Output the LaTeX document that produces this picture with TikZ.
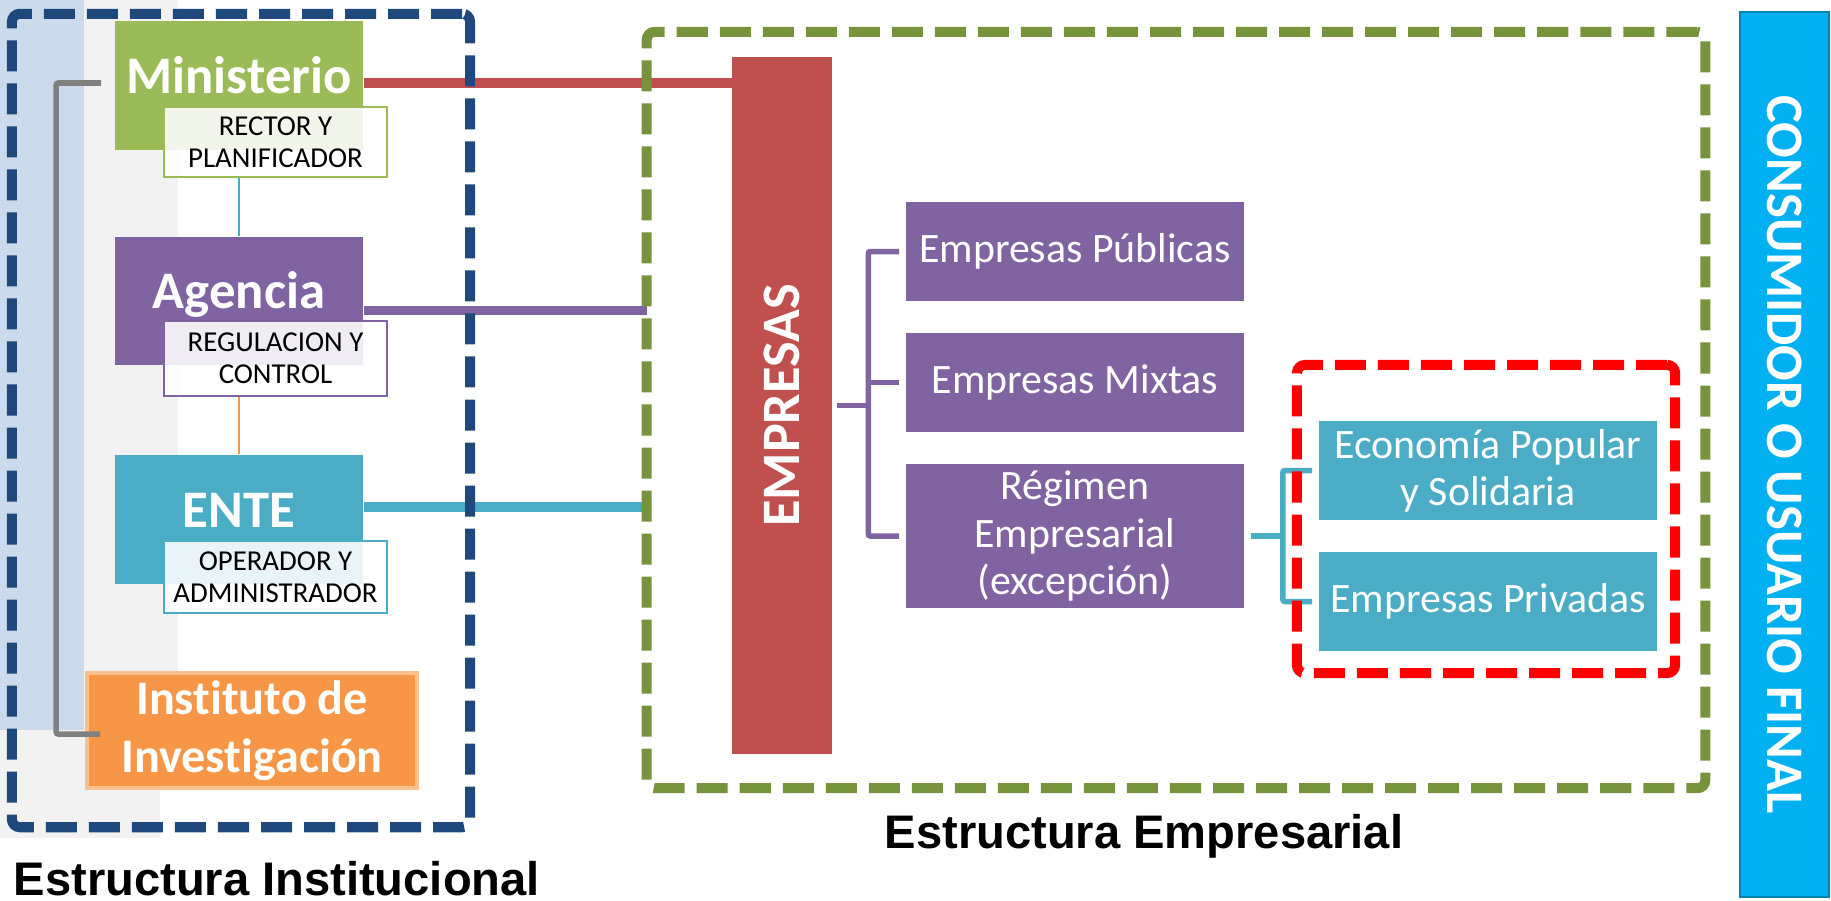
\documentclass[tikz,border=0pt]{standalone}
\usepackage{fontspec}
\setmainfont{Carlito}[Ligatures={NoCommon}]
\newfontfamily\arialfont{Liberation Sans}

\definecolor{minGreen}{HTML}{9BBB59}
\definecolor{agcPurple}{HTML}{8064A2}
\definecolor{entTeal}{HTML}{4BACC6}
\definecolor{insOrange}{HTML}{F79646}
\definecolor{insEdge}{HTML}{FAC090}
\definecolor{empRed}{HTML}{C0504D}
\definecolor{instBlue}{HTML}{1F497D}
\definecolor{empGreen}{HTML}{77933C}
\definecolor{conBlue}{HTML}{00B0F0}
\definecolor{bgBlue}{HTML}{CCDAEC}
\definecolor{bgGray}{HTML}{F2F2F2}

\tikzset{
  mainbox/.style={minimum width=2.48cm, minimum height=1.29cm, inner sep=0pt, text=white,
    font=\bfseries\fontsize{15}{18}\selectfont, text height=0.36cm, text depth=0.21cm},
  descbox/.style={draw, line width=0.6pt, fill=white, fill opacity=0.88, text opacity=1, text=black,
    minimum width=2.23cm, minimum height=0.72cm, inner sep=0pt, align=center,
    font=\fontsize{8.2}{9.1}\selectfont},
  subbox/.style={text=white, minimum width=3.38cm, minimum height=0.99cm, inner sep=0pt,
    align=center, font=\fontsize{11.9}{13.4}\selectfont},
  frame/.style={line width=0.1cm, dash pattern=on 0.31cm off 0.12cm, rounded corners=0.08cm},
  conn/.style={line width=0.09cm},
  brk/.style={line width=0.055cm, rounded corners=0.02cm},
  thinln/.style={line width=0.025cm},
  caption/.style={font=\arialfont\bfseries\fontsize{13.4}{16}\selectfont, inner sep=0pt},
}

\begin{document}
\begin{tikzpicture}[x=0.01cm, y=-0.01cm]
\useasboundingbox (0,0) rectangle (1831,900);

% background strip
\fill[bgGray] (84,0) rectangle (178,730);
\fill[bgGray] (0,730) rectangle (160,838);
\fill[bgBlue] (0,0) rectangle (84,730);

% estructura institucional
\node[mainbox, fill=minGreen] (min) at (239,85.5) {Ministerio};
\node[descbox, draw=minGreen, minimum height=0.70cm] (rec) at (275.5,142) {RECTOR Y\\PLANIFICADOR};
\node[mainbox, fill=agcPurple, minimum height=1.28cm] (agc) at (239,301) {Agencia};
\node[descbox, draw=agcPurple, minimum height=0.75cm] (rgc) at (275.5,358.5) {REGULACION Y\\CONTROL};
\node[mainbox, fill=entTeal] (ent) at (239,519.5) {ENTE};
\node[descbox, draw=entTeal] (ope) at (275.5,577) {OPERADOR Y\\ADMINISTRADOR};
\node[draw=insEdge, line width=1pt, fill=insOrange, text=white, minimum width=3.3cm, minimum height=1.15cm,
  inner sep=0pt, align=center, font=\bfseries\fontsize{13.7}{16.5}\selectfont] (ins) at (252,730.5) {Instituto de\\Investigación};

\draw[thinln, entTeal] (agc.north |- rec.south) -- (agc.north);
\draw[thinln, insOrange] (ent.north |- rgc.south) -- (ent.north);
\draw[brk, gray] ([xshift=-0.13cm, yshift=0.025cm]min.west) -- ++(-45,0) |- ([xshift=0.15cm, yshift=-0.035cm]ins.west);

% estructura empresarial
\node[fill=empRed, text=white, minimum width=0.99cm, minimum height=6.97cm, inner sep=0pt,
  font=\bfseries\fontsize{15.4}{18}\selectfont] (emp) at (782,405.5) {\rotatebox{90}{EMPRESAS}};
\node[subbox, fill=agcPurple] (pub) at (1075,251.5) {Empresas Públicas};
\node[subbox, fill=agcPurple] (mix) at (1075,382.5) {Empresas Mixtas};
\node[subbox, fill=agcPurple, minimum height=1.44cm] (reg) at (1075,536) {Régimen\\Empresarial\\(excepción)};
\node[subbox, fill=entTeal] (eco) at (1488,470.5) {Economía Popular\\y Solidaria};
\node[subbox, fill=entTeal] (prv) at (1488,601.5) {Empresas Privadas};

\node[fill=conBlue, draw=conBlue!75!black, line width=0.5pt, text=white, minimum width=0.89cm, minimum height=8.85cm,
  inner sep=0pt, font=\bfseries\fontsize{15}{18}\selectfont] (con) at (1784.5,454.5) {\rotatebox{-90}{CONSUMIDOR O USUARIO FINAL}};

% connectors
\coordinate (gfw) at (647,0);
\draw[conn, empRed] ([yshift=0.025cm]min.east) -- ([yshift=0.025cm]min.east -| emp.west);
\draw[conn, agcPurple] ([yshift=-0.09cm]agc.east) -- ([yshift=-0.09cm]agc.east -| gfw);
\draw[conn, entTeal] ([yshift=0.125cm]ent.east) -- ([yshift=0.125cm]ent.east -| gfw);

\coordinate (pj) at ([xshift=0.36cm]emp.east);
\draw[brk, agcPurple] ([xshift=0.05cm]emp.east) -- (pj);
\draw[brk, agcPurple] ([xshift=-0.06cm]pub.west) -- (pub.west -| pj) -- (reg.west -| pj) -- ([xshift=-0.06cm]reg.west);
\draw[brk, agcPurple] (pj |- mix.west) -- ([xshift=-0.06cm]mix.west);

\coordinate (tj) at ([xshift=0.38cm]reg.east);
\draw[brk, entTeal] ([xshift=0.06cm]reg.east) -- (tj);
\draw[brk, entTeal] ([xshift=-0.06cm]eco.west) -- (eco.west -| tj) -- (prv.west -| tj) -- ([xshift=-0.06cm]prv.west);

% dashed frames
\node[frame, draw=instBlue, minimum width=4.58cm, minimum height=8.13cm] (instframe) at (241,420.5) {};
\node[frame, draw=empGreen, minimum width=10.58cm, minimum height=7.56cm] (empframe) at (1176,410) {};
\node[frame, draw=red, minimum width=3.78cm, minimum height=3.08cm] (prvframe) at (1486,519) {};

\node[caption, anchor=base] (capemp) at (1144,848) {Estructura Empresarial};
\node[caption, anchor=base west] (capinst) at (13,895) {Estructura Institucional};
\end{tikzpicture}
\end{document}
